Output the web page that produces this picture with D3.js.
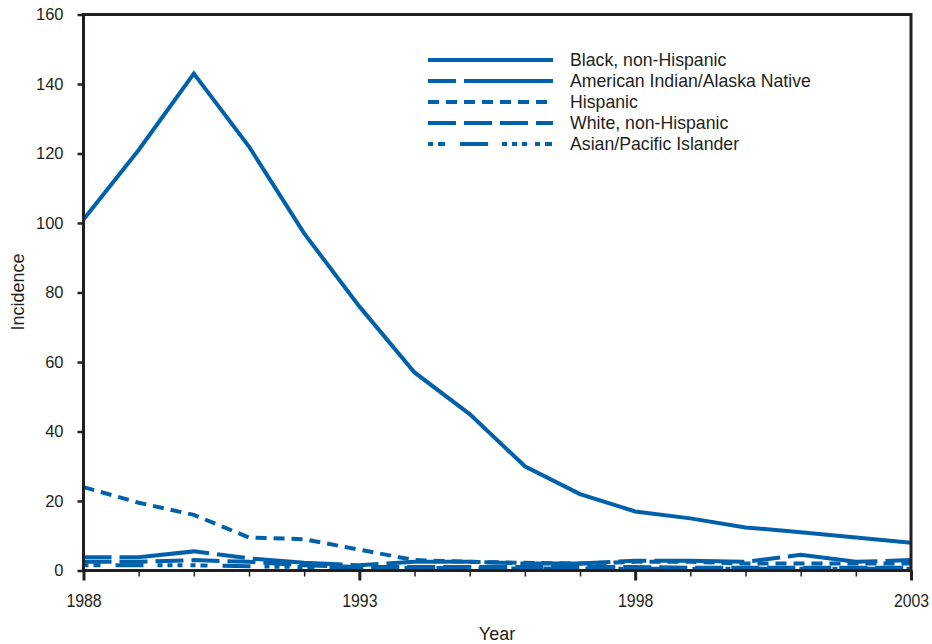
<!DOCTYPE html>
<html><head><meta charset="utf-8">
<script src="https://cdn.jsdelivr.net/npm/d3@7"></script>
<style>body{margin:0;background:#fff}svg{display:block}text{font-family:"Liberation Sans",Arial,Helvetica,sans-serif;fill:#231f20}</style>
</head><body><svg id="c" width="932" height="644"></svg>
<script>
const years = [1988,1989,1990,1991,1992,1993,1994,1995,1996,1997,1998,1999,2000,2001,2002,2003];
const black    = [101,121,143,122,97,76,57,45,30,22,17,15,12.4,11,9.5,8];
const aian     = [3.8,3.8,5.5,3.5,2.2,1.5,2.5,2.5,2.0,2.0,2.8,2.8,2.5,4.5,2.5,3.0];
const hispanic = [24,19.5,16,9.5,9,6,3,2.5,2.2,2,2.5,2.5,2,2,2,2];
const white    = [2.5,2.5,3,2.5,1.5,1,1,1,1,1,1,0.8,0.8,0.8,0.8,0.8];
const asian    = [1.5,1.5,1.5,1.2,1,0.8,0.8,0.6,0.6,0.6,0.5,0.5,0.5,0.5,0.5,0.5];
const seriesNames = ["Black, non-Hispanic","American Indian/Alaska Native","Hispanic","White, non-Hispanic","Asian/Pacific Islander"];
const seriesValues = [black, aian, hispanic, white, asian];
const dashes = [null, "28,8,90,8", "11,7", "28,8", "5,5,7,15,28,14,5,5,5,5,5,8"];
const yTicks = [0,20,40,60,80,100,120,140,160];
const xTickLabels = [1988,1993,1998,2003];
const color = "#0060a9", ink = "#231f20";
const FONT = '"Liberation Sans",Arial,sans-serif';

const svg = d3.select("#c");
const L = 83.5, R = 911, T = 14.5, B = 570.5;
const x = d3.scaleLinear().domain([1988,2003]).range([L,R]);
const y = d3.scaleLinear().domain([0,160]).range([B,T]);

// series
const line = d3.line().x((d,i)=>x(years[i])).y(d=>y(d));
[4,3,2,1,0].forEach(k=>{
  svg.append("path").datum(seriesValues[k]).attr("d",line)
    .attr("fill","none").attr("stroke",color).attr("stroke-width",4)
    .attr("stroke-dasharray",dashes[k]);
});

// frame
svg.append("rect").attr("x",L).attr("y",T).attr("width",R-L).attr("height",B-T)
  .attr("fill","none").attr("stroke",ink).attr("stroke-width",3);

// y axis
const ya = svg.append("g").attr("transform",`translate(${L},0)`)
  .call(d3.axisLeft(y).tickValues(yTicks).tickSize(6).tickPadding(14));
ya.select(".domain").remove();
ya.selectAll("line").attr("stroke",ink).attr("stroke-width",2.5);
ya.selectAll("text").attr("font-size",16.5).style("font-family",FONT).attr("fill",ink);

// x axis
const xa = svg.append("g").attr("transform",`translate(0,${B})`)
  .call(d3.axisBottom(x).tickValues(years).tickSize(6).tickFormat(d=>xTickLabels.includes(d)?d:""));
xa.select(".domain").remove();
xa.selectAll(".tick line").attr("stroke",ink)
  .attr("y2",d=>xTickLabels.includes(d)?10:6).attr("stroke-width",d=>xTickLabels.includes(d)?3:1.5);
xa.selectAll("text").attr("y",24).attr("font-size",18).style("font-family",FONT).attr("fill",ink)
  .attr("transform","scale(0.88,1)");

// axis titles
svg.append("text").attr("x",497).attr("y",640).attr("text-anchor","middle").attr("font-size",18).text("Year");
svg.append("text").attr("transform","translate(24,292) rotate(-90)").attr("text-anchor","middle").attr("font-size",18).text("Incidence");

// legend
const lg = svg.append("g");
seriesNames.forEach((n,i)=>{
  const yy = 60 + i*21;
  lg.append("line").attr("x1",428).attr("x2",553).attr("y1",yy).attr("y2",yy)
    .attr("stroke",color).attr("stroke-width",4).attr("stroke-dasharray",dashes[i]);
  lg.append("text").attr("x",570).attr("y",yy+6).attr("font-size",17.7).text(n);
});
</script></body></html>
